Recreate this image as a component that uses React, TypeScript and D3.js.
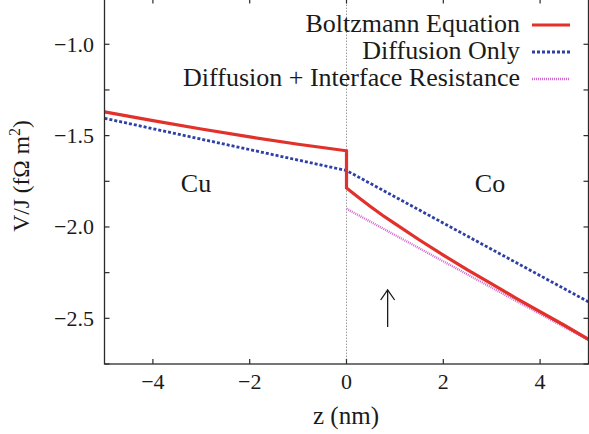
import React from "react";
import * as d3 from "d3";

// Potential drop profile across a Cu/Co interface (z in nm, V/J in fΩ m²)
const boltzmannZ = [-5, -4, -3, -2, -1, -0.5, 0, 0, 0.25, 0.5, 0.75, 1, 1.5, 2, 2.5, 3, 3.5, 4, 4.5, 5];
const boltzmannV = [-1.37, -1.418, -1.464, -1.507, -1.547, -1.565, -1.583, -1.787, -1.839, -1.889, -1.937, -1.982, -2.07, -2.154, -2.235, -2.312, -2.389, -2.464, -2.538, -2.615];

const diffusionZ = [-5, 0, 5];
const diffusionV = [-1.405, -1.691, -2.41];

const interfaceZ = [0, 5];
const interfaceV = [-1.9, -2.62];

const xTicks = [-4, -2, 0, 2, 4];
const yMajorTicks = [-2.5, -2.0, -1.5, -1.0];
const yMinorTicks = [-2.75, -2.25, -1.75, -1.25, -0.75];

const legendLabels = ["Boltzmann Equation", "Diffusion Only", "Diffusion + Interface Resistance"];

const W = 589;
const H = 434;
const FONT = "Liberation Serif, Times New Roman, DejaVu Serif, serif";

const RED = "#e2302a";
const BLUE = "#2e3fa6";
const MAGENTA = "#d267cf";
const AXIS = "#2b2b2b";

const x = d3.scaleLinear().domain([-5, 5]).range([104.5, 588.5]);
const y = d3.scaleLinear().domain([-2.75, -0.75]).range([364, -1.4]);

const fmt = (v: number) => (v < 0 ? "\u2212" + Math.abs(v).toFixed(1) : v.toFixed(1));
const fmtX = (v: number) => (v < 0 ? "\u2212" + Math.abs(v) : String(v));

const line = d3
  .line<[number, number]>()
  .x((d) => x(d[0]))
  .y((d) => y(d[1]));

const zip = (zs: number[], vs: number[]) => zs.map((z, i) => [z, vs[i]] as [number, number]);

const txt: React.CSSProperties = { fontFamily: FONT };

export default function App() {
  const [x0, x1] = x.range();
  const yTop = y(-0.75);
  const yBot = y(-2.75);
  const tick = 5;
  const allY = [...yMajorTicks, ...yMinorTicks];

  const legendStyles = [
    { stroke: RED, width: 3.2, dash: undefined as string | undefined },
    { stroke: BLUE, width: 2.8, dash: "3,2" },
    { stroke: MAGENTA, width: 2.4, dash: "1,1" },
  ];

  const arrowX = x(0.85);

  return (
    <svg
      width={W}
      height={H}
      style={{ position: "absolute", left: 0, top: 0, background: "#fff", fontFamily: FONT }}
    >
      {/* interface position */}
      <line x1={x(0)} x2={x(0)} y1={yTop} y2={yBot} stroke="#9a9a9a" strokeWidth={1} strokeDasharray="1.5,1.5" />

      {/* series */}
      <path d={line(zip(interfaceZ, interfaceV)) || ""} fill="none" stroke={MAGENTA} strokeWidth={2.4} strokeDasharray="1,1" />
      <path d={line(zip(diffusionZ, diffusionV)) || ""} fill="none" stroke={BLUE} strokeWidth={2.8} strokeDasharray="3,2" />
      <path d={line(zip(boltzmannZ, boltzmannV)) || ""} fill="none" stroke={RED} strokeWidth={3.2} strokeLinejoin="miter" />

      {/* frame */}
      <rect x={x0} y={yTop} width={x1 - x0} height={yBot - yTop} fill="none" stroke={AXIS} strokeWidth={1.3} />

      {/* x ticks, bottom and top */}
      {xTicks.map((t) => (
        <g key={"xt" + t}>
          <line x1={x(t)} x2={x(t)} y1={yBot} y2={yBot - tick} stroke={AXIS} strokeWidth={1.2} />
          <line x1={x(t)} x2={x(t)} y1={yTop} y2={yTop + tick} stroke={AXIS} strokeWidth={1.2} />
          <text x={x(t)} y={yBot + 25} fontSize={22} textAnchor="middle" fill="#1a1a1a" style={txt}>
            {fmtX(t)}
          </text>
        </g>
      ))}

      {/* y ticks, left and right */}
      {allY.map((t) => (
        <g key={"yt" + t}>
          <line x1={x0} x2={x0 + tick} y1={y(t)} y2={y(t)} stroke={AXIS} strokeWidth={1.2} />
          <line x1={x1} x2={x1 - tick} y1={y(t)} y2={y(t)} stroke={AXIS} strokeWidth={1.2} />
        </g>
      ))}
      {yMajorTicks.map((t) => (
        <text key={"yl" + t} x={94} y={y(t) + 7.5} fontSize={22} textAnchor="end" fill="#1a1a1a" style={txt}>
          {fmt(t)}
        </text>
      ))}

      {/* axis titles */}
      <text x={346} y={424} fontSize={25} textAnchor="middle" fill="#1a1a1a" style={txt}>
        z (nm)
      </text>
      <text transform={`translate(29,176) rotate(-90)`} fontSize={23.5} textAnchor="middle" fill="#1a1a1a" style={txt}>
        V/J (fΩ m<tspan dy={-9} fontSize={16}>2</tspan>
        <tspan dy={9}>)</tspan>
      </text>

      {/* region labels */}
      <text x={196} y={192} fontSize={26} textAnchor="middle" fill="#1a1a1a" style={txt}>
        Cu
      </text>
      <text x={490} y={192} fontSize={26} textAnchor="middle" fill="#1a1a1a" style={txt}>
        Co
      </text>

      {/* arrow */}
      <g stroke="#1a1a1a" strokeWidth={1.3} fill="none">
        <line x1={arrowX} x2={arrowX} y1={327} y2={290} />
        <polyline points={`${arrowX - 7},${300} ${arrowX},${290} ${arrowX + 7},${300}`} />
      </g>

      {/* legend */}
      {legendLabels.map((label, i) => {
        const base = 32 + i * 27;
        const s = legendStyles[i];
        return (
          <g key={label}>
            <text x={520} y={base} fontSize={26} textAnchor="end" fill="#1a1a1a" style={txt}>
              {label}
            </text>
            <line x1={532} x2={570} y1={base - 7} y2={base - 7} stroke={s.stroke} strokeWidth={s.width} strokeDasharray={s.dash} />
          </g>
        );
      })}
    </svg>
  );
}
